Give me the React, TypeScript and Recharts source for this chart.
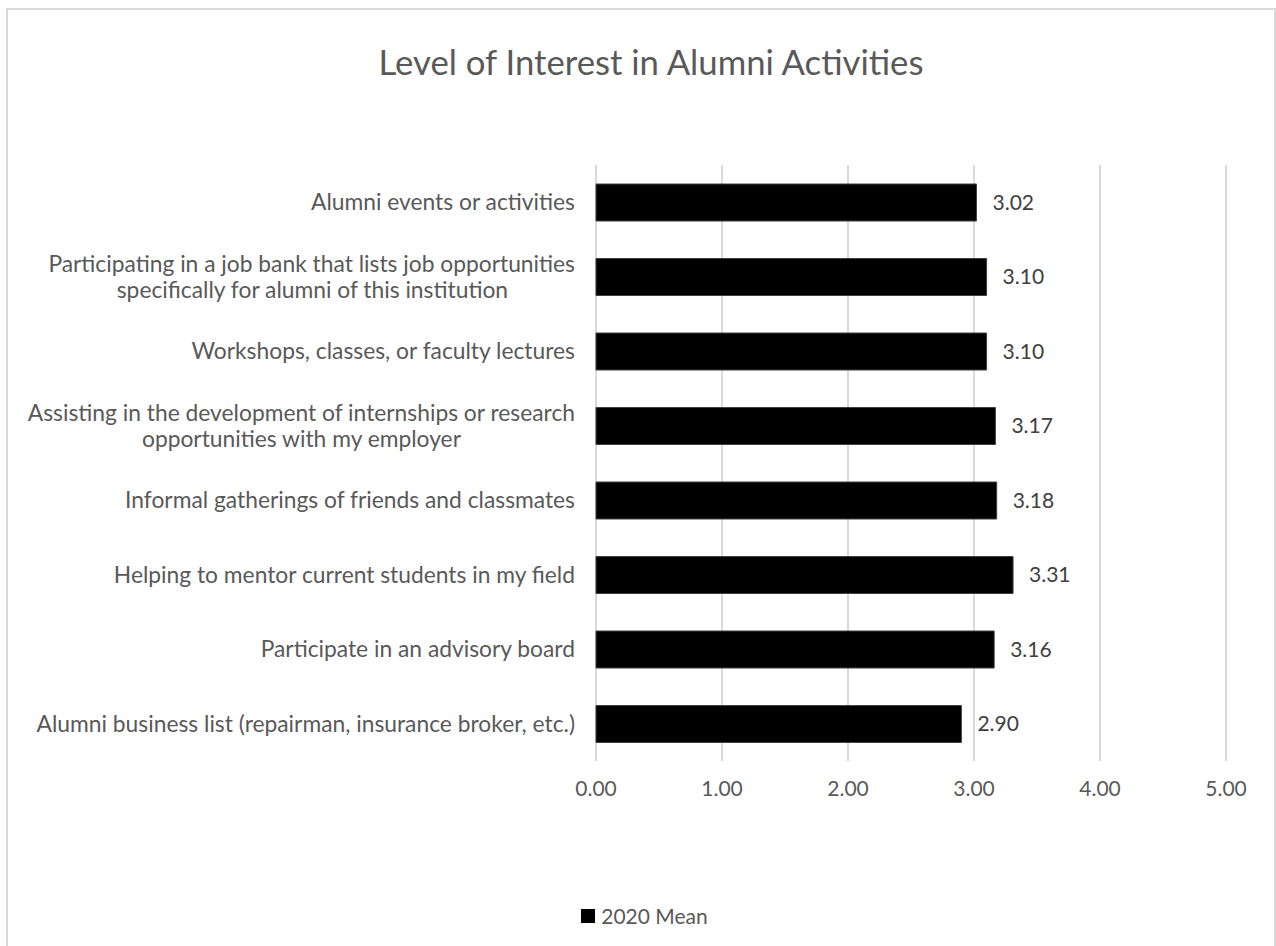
import React from "react";
import {
  BarChart,
  Bar,
  XAxis,
  YAxis,
  CartesianGrid,
  LabelList,
  Legend,
} from "recharts";

const FONT = "Lato, sans-serif";

// top to bottom, as drawn
const categories = [
  "Alumni events or activities",
  "Participating in a job bank that lists job opportunities\nspecifically for alumni of this institution",
  "Workshops, classes, or faculty lectures",
  "Assisting in the development of internships or research\nopportunities with my employer",
  "Informal gatherings of friends and classmates",
  "Helping to mentor current students in my field",
  "Participate in an advisory board",
  "Alumni business list (repairman, insurance broker, etc.)",
];
const mean2020 = [3.02, 3.1, 3.1, 3.17, 3.18, 3.31, 3.16, 2.9];
const xTicks = [0, 1, 2, 3, 4, 5];

const seriesName = "2020 Mean";

let ctx: CanvasRenderingContext2D | null = null;
function textWidth(s: string, size: number) {
  if (!ctx) ctx = document.createElement("canvas").getContext("2d");
  if (!ctx) return s.length * size * 0.5;
  ctx.font = `${size}px Lato`;
  return ctx.measureText(s).width;
}

// right-aligned block, lines centred on each other (Excel style wrap)
function CategoryTick(props: any) {
  const { x, y, payload } = props;
  const lines: string[] = String(payload.value).split("\n");
  const size = 22.8;
  const lineH = 26;
  const widths = lines.map((l) => textWidth(l, size));
  const maxW = Math.max(...widths);
  const right = x - 13;
  const y0 = y - ((lines.length - 1) * lineH) / 2;
  return (
    <g>
      {lines.map((l, i) => (
        <text
          key={i}
          x={right - (maxW - widths[i]) / 2}
          y={y0 + i * lineH}
          dy="0.35em"
          textAnchor="end"
          fill="#595959"
          fontSize={size}
          fontFamily={FONT}
        >
          {l}
        </text>
      ))}
    </g>
  );
}

function LegendBox() {
  return (
    <div
      style={{
        display: "flex",
        justifyContent: "center",
        alignItems: "center",
        fontFamily: FONT,
        fontSize: 21,
        color: "#595959",
      }}
    >
      <span
        style={{
          width: 14,
          height: 14,
          background: "#000",
          display: "inline-block",
          marginRight: 6,
        }}
      />
      {seriesName}
    </div>
  );
}

export default function App() {
  const data = categories.map((c, i) => ({ name: c, value: mean2020[i] }));

  return (
    <div style={{ position: "absolute", left: 0, top: 0, width: 1276, height: 946, background: "#fff", overflow: "hidden" }}>
      <div
        style={{
          position: "absolute",
          left: 6,
          top: 8,
          width: 1270,
          height: 960,
          border: "2px solid #d9d9d9",
          boxSizing: "border-box",
        }}
      />
      <div
        style={{
          position: "absolute",
          left: 0,
          width: 1302,
          top: 41,
          textAlign: "center",
          fontFamily: FONT,
          fontSize: 34.7,
          color: "#595959",
        }}
      >
        Level of Interest in Alumni Activities
      </div>
      <BarChart
        width={1276}
        height={946}
        data={data}
        layout="vertical"
        margin={{ top: 165, right: 50, left: 0, bottom: 155 }}
        style={{ position: "absolute", left: 0, top: 0 }}
      >
        <CartesianGrid horizontal={false} stroke="#d9d9d9" strokeWidth={2} />
        <XAxis
          type="number"
          domain={[0, 5]}
          ticks={xTicks}
          tickFormatter={(v: number) => v.toFixed(2)}
          axisLine={false}
          tickLine={false}
          tickMargin={14}
          height={30}
          tick={{ fill: "#595959", fontSize: 21, fontFamily: FONT }}
        />
        <YAxis
          type="category"
          dataKey="name"
          width={596}
          axisLine={false}
          tickLine={false}
          tick={<CategoryTick />}
          interval={0}
        />
        <Legend
          layout="horizontal"
          verticalAlign="middle"
          align="center"
          wrapperStyle={{ top: 903, left: 0, width: 1289 }}
          content={<LegendBox />}
        />
        <Bar
          dataKey="value"
          name={seriesName}
          fill="#000"
          stroke="#404040"
          strokeWidth={1}
          barSize={37}
          isAnimationActive={false}
        >
          <LabelList
            dataKey="value"
            position="right"
            offset={16}
            formatter={(v: any) => Number(v).toFixed(2)}
            fill="#404040"
            fontSize={21}
            fontFamily={FONT}
          />
        </Bar>
      </BarChart>
    </div>
  );
}
